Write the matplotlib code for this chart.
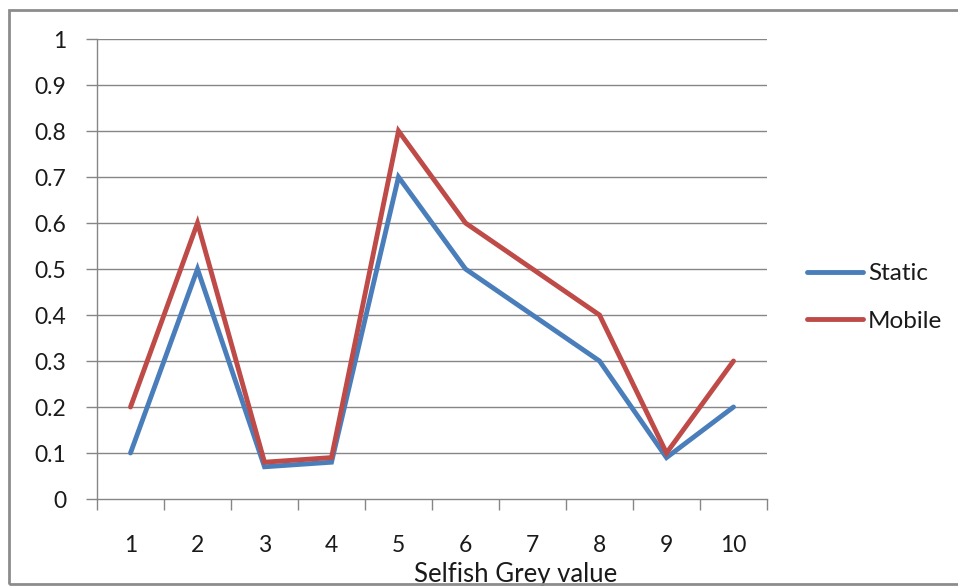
import matplotlib.pyplot as plt
from matplotlib.patches import Rectangle

plt.rcParams["font.family"] = ["Lato", "DejaVu Sans"]

# Selfish grey values on the x axis
categories = ["1", "2", "3", "4", "5", "6", "7", "8", "9", "10"]
static_vals = [0.1, 0.5, 0.07, 0.08, 0.7, 0.5, 0.4, 0.3, 0.09, 0.2]
mobile_vals = [0.2, 0.6, 0.08, 0.09, 0.8, 0.6, 0.5, 0.4, 0.1, 0.3]
y_ticks = [0, 0.1, 0.2, 0.3, 0.4, 0.5, 0.6, 0.7, 0.8, 0.9, 1]
y_tick_labels = ["0", "0.1", "0.2", "0.3", "0.4", "0.5", "0.6", "0.7", "0.8", "0.9", "1"]

W, H = 958, 586
fig = plt.figure(figsize=(W / 100, H / 100), dpi=100)
ax = fig.add_axes([97 / W, 1 - 499 / H, 670 / W, 460 / H])

grid_color = "#868686"
text_color = "#1a1a1a"

# Outer chart border
fig.patches.append(
    Rectangle(
        (9 / W, 1 - 584 / H),
        1.2,
        (584 - 10) / H,
        transform=fig.transFigure,
        fill=False,
        edgecolor="#8c8c8c",
        linewidth=2,
        zorder=0,
    )
)

x = list(range(len(categories)))
ax.plot(x, static_vals, color="#4A7EBB", linewidth=3.5, label="Static",
        solid_capstyle="round", solid_joinstyle="miter", zorder=3)
ax.plot(x, mobile_vals, color="#BE4B48", linewidth=3.5, label="Mobile",
        solid_capstyle="round", solid_joinstyle="miter", zorder=3)

ax.set_xlim(-0.5, len(categories) - 0.5)
ax.set_ylim(0, 1)

# Horizontal gridlines
for yv in y_ticks[1:]:
    ax.axhline(yv, color=grid_color, linewidth=1, zorder=1)

ax.set_yticks(y_ticks)
ax.set_yticklabels(y_tick_labels)
ax.tick_params(axis="y", length=8, width=1, color=grid_color, pad=14,
               labelsize=16.5, labelcolor=text_color)

# Tick marks between categories, labels centred on each category
ax.set_xticks([i - 0.5 for i in range(len(categories) + 1)])
ax.set_xticklabels([])
ax.set_xticks(x, minor=True)
ax.set_xticklabels(categories, minor=True)
ax.tick_params(axis="x", which="major", length=8, width=1, color=grid_color)
ax.tick_params(axis="x", which="minor", length=0, pad=26,
               labelsize=16.5, labelcolor=text_color)

for side in ["top", "right"]:
    ax.spines[side].set_visible(False)
for side in ["left", "bottom"]:
    ax.spines[side].set_color(grid_color)
    ax.spines[side].set_linewidth(1)

ax.set_xlabel("Selfish Grey value", fontsize=18.5, color=text_color)
ax.xaxis.set_label_coords((516 - 97) / 670, (499 - 562) / 460)

ax.legend(
    loc="center left",
    bbox_to_anchor=(807 / W, 1 - 297.5 / H),
    bbox_transform=fig.transFigure,
    frameon=False,
    fontsize=17.5,
    handlelength=2.3,
    handletextpad=0.2,
    labelspacing=1.1,
    borderpad=0,
    borderaxespad=0,
    labelcolor=text_color,
)

fig.savefig("out.png", dpi=100)
